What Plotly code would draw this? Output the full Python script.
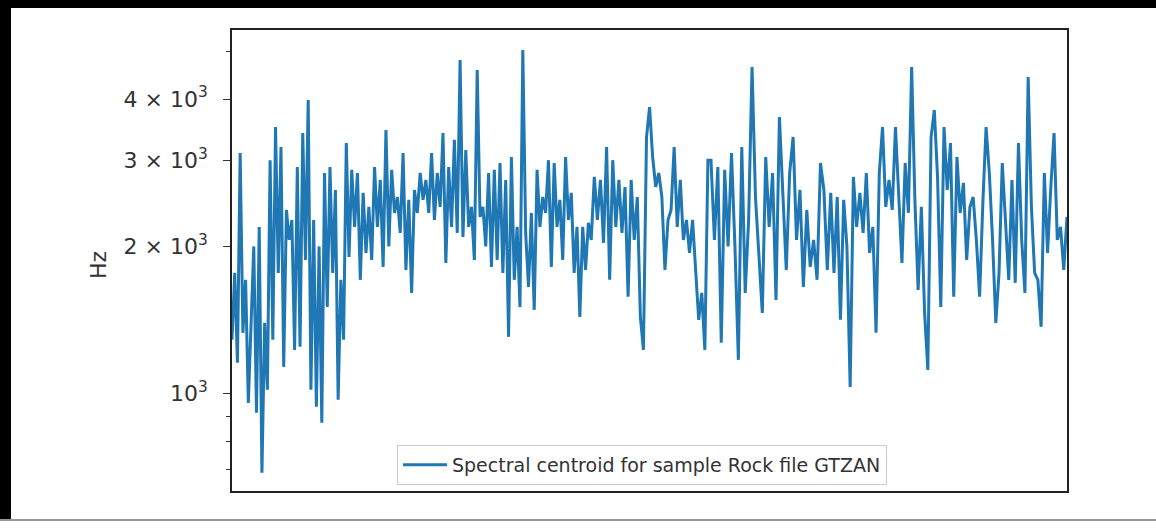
import numpy as np
import plotly.graph_objects as go

# Spectral centroid values (Hz), left to right, in 7 consecutive time slices
SEG1 = [1289, 1766, 1157, 3103, 1332, 1709, 958, 1436, 2000, 915, 2192, 690, 1396, 1019, 3000, 1289,
        3507, 1766, 3192, 1135, 2374, 2062, 2265, 1229, 2906, 1247, 3409, 1877, 3981, 1019, 2265, 941,
        2000, 873, 2825, 1505, 2906, 1766, 2608, 972, 1709, 1289, 3252, 1904]
SEG2 = [2866, 2192, 2825, 1709, 2572, 1940, 2408, 1877, 2906, 2192, 2734, 1816, 3458, 2000, 2866, 2341,
        2523, 2131, 3103, 1791, 2489, 1607, 2608, 2341, 2825, 2489, 2734, 2341, 3103, 2265, 2825, 2408,
        3409, 1851, 2906, 2192, 3300, 2131, 4805, 2091, 3147, 2192]
SEG3 = [2408, 1877, 4584, 2297, 2408, 2000, 2825, 1816, 2866, 1877, 2961, 1766, 2734, 1307, 3045, 1709,
        2192, 1505, 5035, 2131, 1653, 2341, 1484, 2866, 2192, 2523, 2341, 3000, 1816, 2961, 2192, 2489,
        1877, 3045, 2265, 2572, 1766, 2192, 1436, 2192, 1791, 2234]
SEG4 = [2062, 2773, 2265, 2734, 2033, 3192, 1709, 3000, 2192, 2734, 2131, 2645, 1578, 2734, 2062, 2523,
        1436, 1229, 3346, 3852, 3045, 2645, 2825, 2523, 1791, 2265, 2374, 3192, 2192, 2734, 2062, 2265,
        1940, 2265, 1766, 1416, 1607, 1229, 3000]
SEG5 = [3000, 2062, 2906, 1271, 2866, 2000, 3103, 2000, 1173, 3192, 1607, 2265, 4648, 2523, 1940, 1463,
        3045, 2192, 2825, 1555, 3676, 2608, 1791, 2825, 3346, 2062, 2608, 1653, 2374, 1816, 2062, 1709,
        2961, 2608, 1791]
SEG6 = [2572, 1766, 2523, 1416, 2489, 2000, 1033, 2773, 2192, 2572, 2131, 2825, 1940, 2192, 1332, 2825,
        3507, 2408, 2734, 2374, 3507, 2572, 1851, 2961, 2341, 4648, 2489, 1630, 2408, 1463, 1119, 3346,
        3798, 2773, 1505, 3507, 2608]
SEG7 = [3252, 1578, 3045, 2341, 2696, 1877, 2408, 2523, 2062, 1578, 2454, 3507, 2825, 2062, 1396, 1766,
        2961, 2192, 1709, 2734, 1685, 3252, 2062, 1607, 4436, 2408, 1766, 1709, 1370, 2825, 1940, 2645,
        3409, 2062, 2192, 1791, 2297]

SEGMENTS = [SEG1, SEG2, SEG3, SEG4, SEG5, SEG6, SEG7]
N_FRAMES = 1293  # frames of a 30 s GTZAN clip

Y_TICKS = [1000, 2000, 3000, 4000]
Y_TICK_TEXT = ["10<sup>3</sup>", "2 × 10<sup>3</sup>", "3 × 10<sup>3</sup>", "4 × 10<sup>3</sup>"]
Y_MINOR = [700, 800, 900, 5000]
Y_TITLE = "Hz"
LEGEND_NAME = "Spectral centroid for sample Rock file GTZAN"

# frame index for each value: each slice covers an equal share of the clip
seg_len = N_FRAMES / len(SEGMENTS)
frames, values = [], []
for k, seg in enumerate(SEGMENTS):
    frames.extend(k * seg_len + np.arange(len(seg)) * seg_len / len(seg))
    values.extend(seg)

W, H = 1156, 529
L, R, T, B = 232, 1067, 30, 491


def px(x):
    return (x - L) / (R - L)


def py(y):
    return (B - y) / (B - T)


fig = go.Figure()
fig.add_trace(go.Scatter(x=frames, y=values, mode="lines", name=LEGEND_NAME,
                         line=dict(color="#1f77b4", width=3), showlegend=True))

FAM = "DejaVu Sans, Verdana, sans-serif"
tick_font = dict(family=FAM, size=22, color="#333333")

fig.update_layout(
    width=W, height=H,
    margin=dict(l=L, r=W - R, t=T, b=H - B, pad=0),
    paper_bgcolor="white", plot_bgcolor="white",
    font=dict(family=FAM, size=19, color="#333333"),
    showlegend=True,
    legend=dict(x=px(397), y=py(445), xanchor="left", yanchor="top", itemwidth=44,
                bgcolor="rgba(255,255,255,0.8)", bordercolor="#cccccc", borderwidth=1,
                font=dict(family=FAM, size=19, color="#333333")),
    xaxis=dict(range=[0, max(frames)], showgrid=False, zeroline=False, showticklabels=False,
               ticks="", showline=True, linecolor="#222222", linewidth=1.6, mirror=True),
    yaxis=dict(type="log", range=[np.log10(633), np.log10(5534)], showgrid=False, zeroline=False,
               tickvals=Y_TICKS, ticktext=Y_TICK_TEXT, ticks="outside", ticklen=7, tickwidth=1.4,
               tickcolor="#333333", ticklabelstandoff=11,
               minor=dict(tickvals=Y_MINOR, ticks="outside", ticklen=4, tickwidth=1.2, tickcolor="#333333"),
               showline=True, linecolor="#222222", linewidth=1.6, mirror=True,
               tickfont=tick_font),
)

fig.add_annotation(text=Y_TITLE, x=px(98), y=py(265), xref="paper", yref="paper",
                   showarrow=False, textangle=-90, xanchor="center", yanchor="middle",
                   font=dict(family=FAM, size=22, color="#333333"))

# Picture frame around the screenshot
fig.add_shape(type="rect", xref="paper", yref="paper", x0=px(0), x1=px(11), y0=py(521), y1=py(0),
              fillcolor="black", line=dict(width=0), layer="above")
fig.add_shape(type="rect", xref="paper", yref="paper", x0=px(0), x1=px(W), y0=py(8), y1=py(0),
              fillcolor="black", line=dict(width=0), layer="above")
fig.add_shape(type="line", xref="paper", yref="paper", x0=px(0), x1=px(W), y0=py(520), y1=py(520),
              line=dict(color="#999999", width=2), layer="above")

fig.write_html("out.html", config={"displayModeBar": False},
               post_script="document.body.style.margin='0';document.body.style.overflow='hidden';")
